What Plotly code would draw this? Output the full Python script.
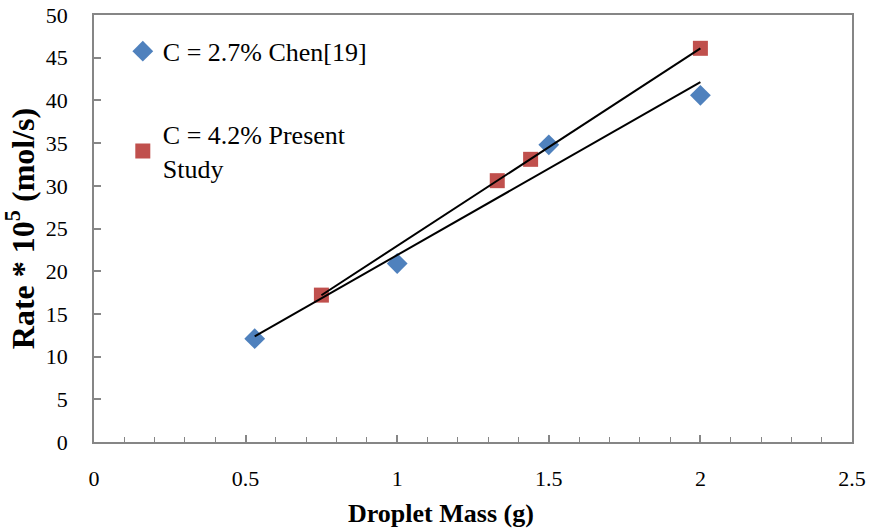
import numpy as np
import plotly.graph_objects as go

# Droplet mass (g) and reaction rate (x 10^5 mol/s)
chen_mass = [0.53, 1.0, 1.5, 2.0]
chen_rate = [12.1, 20.9, 34.8, 40.6]
present_mass = [0.75, 1.33, 1.44, 2.0]
present_rate = [17.2, 30.6, 33.1, 46.1]

chen_label = "C = 2.7% Chen[19]"
present_label = "C = 4.2% Present<br>Study"

x_ticks = [0, 0.5, 1, 1.5, 2, 2.5]
x_tick_text = ["0", "0.5", "1", "1.5", "2", "2.5"]
y_ticks = [0, 5, 10, 15, 20, 25, 30, 35, 40, 45, 50]

BLUE = "#4F81BD"
RED = "#C0504D"
AXIS = "#868686"
FONT = "Liberation Serif"


def linear_trend(x, y):
    slope, intercept = np.polyfit(x, y, 1)
    xs = np.array([min(x), max(x)])
    return xs, slope * xs + intercept


fig = go.Figure()

fig.add_trace(go.Scatter(
    x=chen_mass, y=chen_rate, mode="markers", name=chen_label,
    legendgroup="chen",
    marker=dict(symbol="diamond", size=16, color=BLUE),
))
fig.add_trace(go.Scatter(
    x=present_mass, y=present_rate, mode="markers", name=present_label,
    legendgroup="present",
    marker=dict(symbol="square", size=15, color=RED),
))

for mx, ry in ((chen_mass, chen_rate), (present_mass, present_rate)):
    tx, ty = linear_trend(mx, ry)
    fig.add_trace(go.Scatter(
        x=tx, y=ty, mode="lines", showlegend=False, hoverinfo="skip",
        line=dict(color="black", width=2),
    ))

fig.update_layout(
    width=869, height=531,
    margin=dict(l=94, r=17, t=15, b=89),
    paper_bgcolor="white", plot_bgcolor="white",
    font=dict(family=FONT, size=22, color="black"),
    showlegend=True,
    legend=dict(
        x=0.038, y=0.97, xanchor="left", yanchor="top",
        font=dict(family=FONT, size=26),
        bgcolor="rgba(0,0,0,0)",
        tracegroupgap=46,
        itemwidth=30,
    ),
    xaxis=dict(
        range=[0, 2.5], tickvals=x_ticks, ticktext=x_tick_text,
        showgrid=False, zeroline=False, automargin=False,
        showline=True, linecolor=AXIS, linewidth=1.5, mirror=True,
        ticks="inside", ticklen=7, tickcolor=AXIS, tickwidth=1.5,
        ticklabelstandoff=16,
        minor=dict(dtick=0.1, ticks="inside", ticklen=5,
                   tickcolor=AXIS, tickwidth=1.2, showgrid=False),
    ),
    yaxis=dict(
        range=[0, 50], tickvals=y_ticks,
        showgrid=False, zeroline=False, automargin=False,
        showline=True, linecolor=AXIS, linewidth=1.5, mirror=True,
        ticks="inside", ticklen=7, tickcolor=AXIS, tickwidth=1.5,
        ticklabelstandoff=20,
        title=dict(text="<b>Rate * 10<sup>5</sup> (mol/s)</b>", standoff=2,
                   font=dict(family=FONT, size=32)),
    ),
    annotations=[dict(
        text="<b>Droplet Mass (g)</b>", xref="paper", yref="paper",
        x=0.458, y=-0.168, xanchor="center", yanchor="middle",
        showarrow=False, font=dict(family=FONT, size=26),
    )],
)

fig.write_html("out.html")
